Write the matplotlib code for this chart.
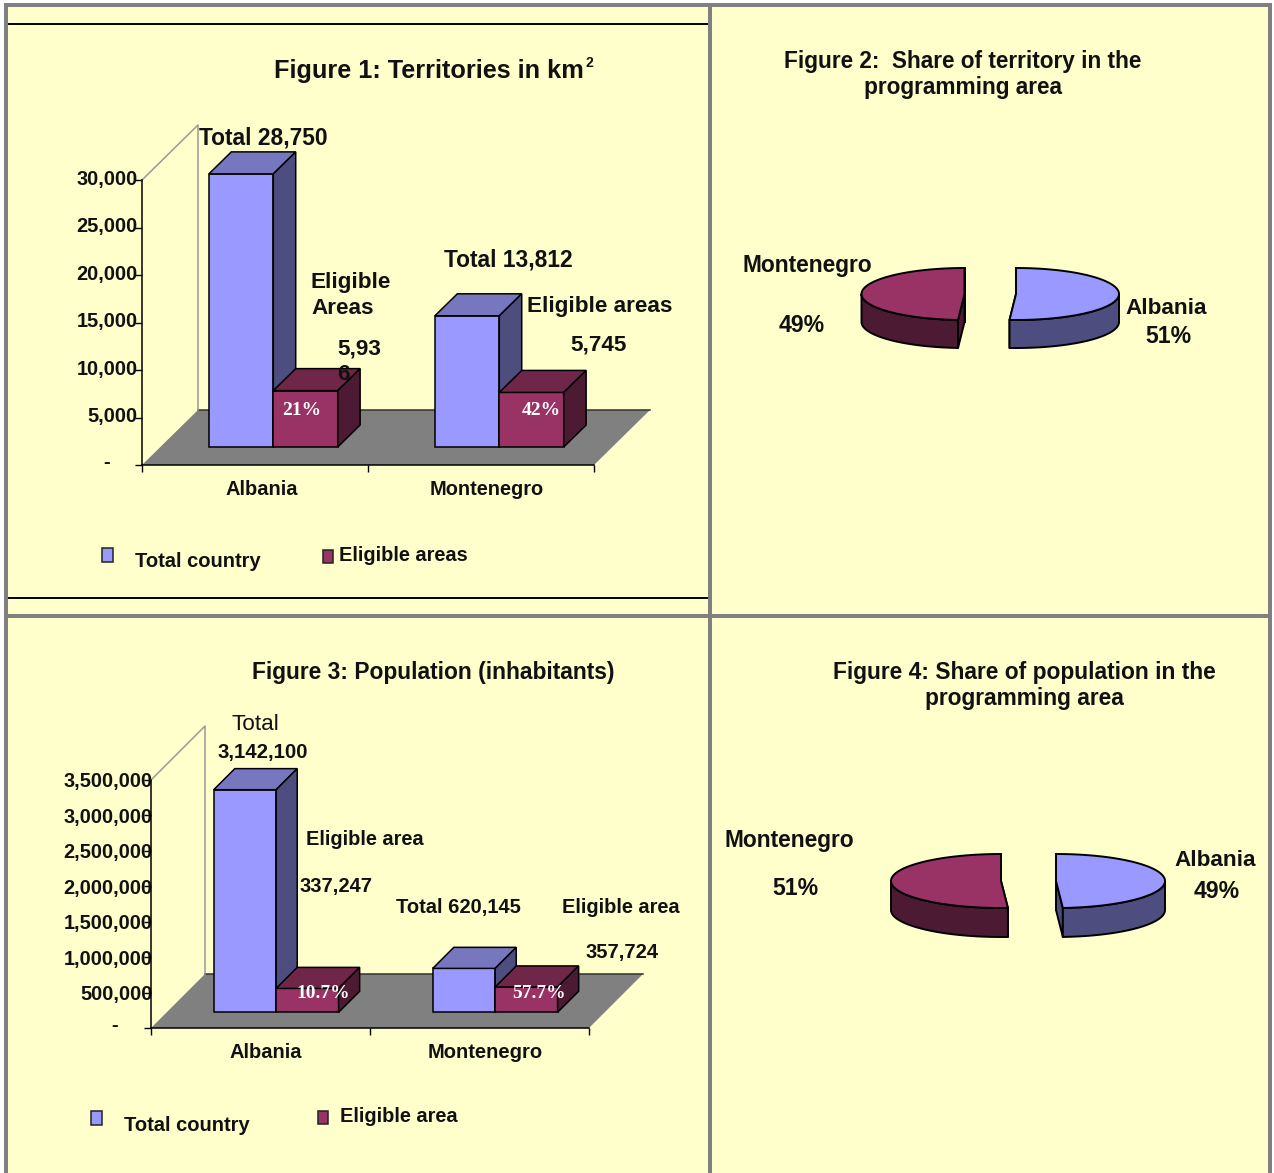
import numpy as np
import matplotlib
matplotlib.use("Agg")
import matplotlib.pyplot as plt
from matplotlib.patches import Polygon, Rectangle
from matplotlib.ticker import FuncFormatter
from matplotlib.transforms import ScaledTranslation

plt.rcParams['font.family'] = ['Liberation Sans', 'DejaVu Sans']
plt.rcParams['font.weight'] = 'bold'

W = 1274
H = 1173

countries = ["Albania", "Montenegro"]
territory_total = [28750, 13812]
territory_eligible = [5936, 5745]
territory_ticks = [0, 5000, 10000, 15000, 20000, 25000, 30000]
population_total = [3142100, 620145]
population_eligible = [337247, 357724]
population_ticks = [0, 500000, 1000000, 1500000, 2000000, 2500000, 3000000, 3500000]
territory_share = [0.51, 0.49]
population_share = [0.49, 0.51]

BG = "#FFFFCC"
GREY = "#808080"
BLUE = ("#9999FF", "#7777BF", "#4D4D80")
RED = ("#993366", "#702648", "#4D1A33")
INK = "#111111"
LW = 1.1


def px(n):
    return n * 0.72


fig = plt.figure(figsize=(W / 100, H / 100), dpi=100, facecolor="white")
bg = fig.add_axes([0, 0, 1, 1], zorder=0)
bg.set_xlim(0, W)
bg.set_ylim(H, 0)
bg.axis("off")
over = fig.add_axes([0, 0, 1, 1], zorder=5)
over.set_xlim(0, W)
over.set_ylim(H, 0)
over.axis("off")
over.patch.set_alpha(0)

# panels and table rules
bg.add_patch(Rectangle((4, 3), 1268, H, fc=BG, ec="none"))
for x in [4, 708, 1268]:
    bg.add_patch(Rectangle((x, 3), 4, H, fc=GREY, ec="none"))
for y in [3, 614]:
    bg.add_patch(Rectangle((4, y), 1268, 4, fc=GREY, ec="none"))
for y in [24, 598]:
    bg.plot([8, 708], [y, y], color="black", lw=1.4, solid_capstyle="butt")


def label(x, y, s, size=22.5, ha="left", weight="bold", family=None, color=INK):
    fam = family if family else ['Liberation Sans', 'DejaVu Sans']
    over.text(x, y, s, fontsize=px(size), ha=ha, va="baseline", weight=weight,
              family=fam, color=color)


def bar3d(ax, x0, x1, val, d0, d1, dx, dy, cols):
    # dx, dy = shift in data units for a depth of 1
    sx0, sy0 = d0 * dx, d0 * dy
    sx1, sy1 = d1 * dx, d1 * dy
    a, b = x0 + sx0, x1 + sx0
    c, d = x0 + sx1, x1 + sx1
    kw = dict(ec="black", lw=LW, joinstyle="miter", clip_on=False, zorder=3)
    ax.add_patch(Polygon([(a, sy0), (b, sy0), (b, val + sy0), (a, val + sy0)], fc=cols[0], **kw))
    ax.add_patch(Polygon([(a, val + sy0), (b, val + sy0), (d, val + sy1), (c, val + sy1)], fc=cols[1], **kw))
    ax.add_patch(Polygon([(b, sy0), (d, sy1), (d, val + sy1), (b, val + sy0)], fc=cols[2], **kw))


def bar_chart(box, ticks, total, eligible, depth_px, d0, d1, bar_w, pad, lift):
    left, right, bottom, top = box
    ax = fig.add_axes([left / W, 1 - bottom / H, (right - left) / W, (bottom - top) / H], zorder=1)
    ax.patch.set_alpha(0)
    ax.set_xlim(0, len(total))
    ax.set_ylim(0, ticks[-1])
    dx = depth_px[0] * len(total) / (right - left)
    dy = depth_px[1] * ticks[-1] / (bottom - top)

    ax.add_patch(Polygon([(0, 0), (len(total), 0), (len(total) + dx, dy), (dx, dy)],
                         fc=GREY, ec="none", clip_on=False, zorder=1))
    ax.plot([dx, len(total) + dx], [dy, dy], color="#333333", lw=LW, clip_on=False, zorder=2)
    ax.plot([0, dx, dx], [ticks[-1], ticks[-1] + dy, dy], color="#999999", lw=LW, clip_on=False, zorder=2)

    for i in range(len(total)):
        c = i + 0.5
        bar3d(ax, c - bar_w, c, total[i], d0, d1, dx, dy, BLUE)
        bar3d(ax, c, c + bar_w, eligible[i], d0, d1, dx, dy, RED)

    for s in ["top", "right"]:
        ax.spines[s].set_visible(False)
    for s in ["left", "bottom"]:
        ax.spines[s].set_linewidth(LW)
    ax.set_xticks(range(len(total) + 1))
    ax.set_xticklabels([])
    ax.set_yticks(ticks)
    ax.yaxis.set_major_formatter(FuncFormatter(lambda v, p: "" if v == 0 else f"{int(v):,}"))
    ax.tick_params(axis="x", length=5, width=1)
    ax.tick_params(axis="y", length=5, width=1, pad=pad, labelsize=px(20), labelcolor=INK)
    shift = ScaledTranslation(0, lift / 100, fig.dpi_scale_trans)
    for t in ax.get_yticklabels():
        t.set_transform(t.get_transform() + shift)
    return ax


def pie3d(center, rx, ry, thick, start, share, cols):
    cx, cy = center
    end = start - share * 360
    t = np.radians(np.linspace(start, end, 200))
    xs = cx + rx * np.cos(t)
    ys = cy - ry * np.sin(t)
    kw = dict(ec="black", lw=1.4, joinstyle="round")
    # cut faces first, the outer side and the top paint over what is hidden
    for a in [start, end]:
        ex = cx + rx * np.cos(np.radians(a))
        ey = cy - ry * np.sin(np.radians(a))
        bg.add_patch(Polygon([(cx, cy), (ex, ey), (ex, ey + thick), (cx, cy + thick)], fc=cols[2], **kw))
    low = np.sin(t) <= 0
    if low.any():
        sx = xs[low]
        sy = ys[low]
        pts = list(zip(sx, sy)) + list(zip(sx[::-1], sy[::-1] + thick))
        bg.add_patch(Polygon(pts, fc=cols[2], **kw))
    bg.add_patch(Polygon([(cx, cy)] + list(zip(xs, ys)), fc=cols[0], **kw))


# Figure 1
bar_chart((142, 594, 465, 180), territory_ticks, territory_total, territory_eligible,
          (56, 55), 0.327, 0.727, 0.285, -2, 3)
label(274, 78, "Figure 1: Territories in km", 25.2)
label(586, 67, "2", 14)
label(199, 144, "Total " + f"{territory_total[0]:,}", 22.7)
label(311, 288, "Eligible")
label(311, 314, "Areas")
label(337, 354, "5,93")
label(337, 380, "6")
label(444, 266, "Total " + f"{territory_total[1]:,}", 22.7)
label(527, 312, "Eligible areas")
label(570, 350, f"{territory_eligible[1]:,}")
label(282, 415, "21%", 19.5, family=["Liberation Serif"], color="white")
label(522, 415, "42%", 19.5, family=["Liberation Serif"], color="white")
label(107, 468, "-", 20, ha="center")
label(262, 495, countries[0], 20, ha="center")
label(430, 495, countries[1], 20)
over.add_patch(Rectangle((102, 548), 11, 14, fc=BLUE[0], ec="#222222", lw=LW))
label(135, 567, "Total country", 20.2)
over.add_patch(Rectangle((323, 550), 10, 13, fc=RED[0], ec="#222222", lw=LW))
label(339, 561, "Eligible areas", 20)

# Figure 2
label(963, 68, "Figure 2:  Share of territory in the", 22.6, ha="center")
label(963, 94, "programming area", 22.6, ha="center")
pie3d((1016, 294), 103, 26, 28, 90, territory_share[0], BLUE)
pie3d((964.5, 294), 103, 26, 28, 90 - territory_share[0] * 360, territory_share[1], RED)
label(743, 272, countries[1], 22.7)
label(779, 332, f"{territory_share[1]:.0%}", 23)
label(1125, 314, countries[0])
label(1145, 343, f"{territory_share[0]:.0%}", 23)

# Figure 3
bar_chart((151, 589, 1028, 780), population_ticks, population_total, population_eligible,
          (54, 54), 0.29, 0.68, 0.285, -6, 0)
label(252, 679, "Figure 3: Population (inhabitants)", 22.7)
label(231, 730, "Total", weight="normal")
label(218, 758, f"{population_total[0]:,}", 20.4)
label(306, 845, "Eligible area", 20)
label(300, 892, f"{population_eligible[0]:,}", 20.2)
label(396, 913, "Total " + f"{population_total[1]:,}", 20.2)
label(562, 913, "Eligible area", 20)
label(585, 958, f"{population_eligible[1]:,}", 20.2)
label(296, 998, "10.7%", 19.5, family=["Liberation Serif"], color="white")
label(512, 998, "57.7%", 19.5, family=["Liberation Serif"], color="white")
label(115, 1031, "-", 20, ha="center")
label(266, 1058, countries[0], 20, ha="center")
label(428, 1058, countries[1], 20.2)
over.add_patch(Rectangle((91, 1111), 11, 14, fc=BLUE[0], ec="#222222", lw=LW))
label(124, 1131, "Total country", 20.2)
over.add_patch(Rectangle((318, 1111), 10, 13, fc=RED[0], ec="#222222", lw=LW))
label(340, 1122, "Eligible area", 20)

# Figure 4
label(1024, 679, "Figure 4: Share of population in the", 22.7, ha="center")
label(1024, 705, "programming area", 22.7, ha="center")
pie3d((1056, 881), 109, 27, 29, 90, population_share[0], BLUE)
pie3d((1001, 881), 110, 27, 29, 90 - population_share[0] * 360, population_share[1], RED)
label(725, 847, countries[1], 22.7)
label(772, 895, f"{population_share[1]:.0%}", 23)
label(1174, 866, countries[0])
label(1194, 898, f"{population_share[0]:.0%}", 23)

fig.savefig("out.png", dpi=100, facecolor="white")
